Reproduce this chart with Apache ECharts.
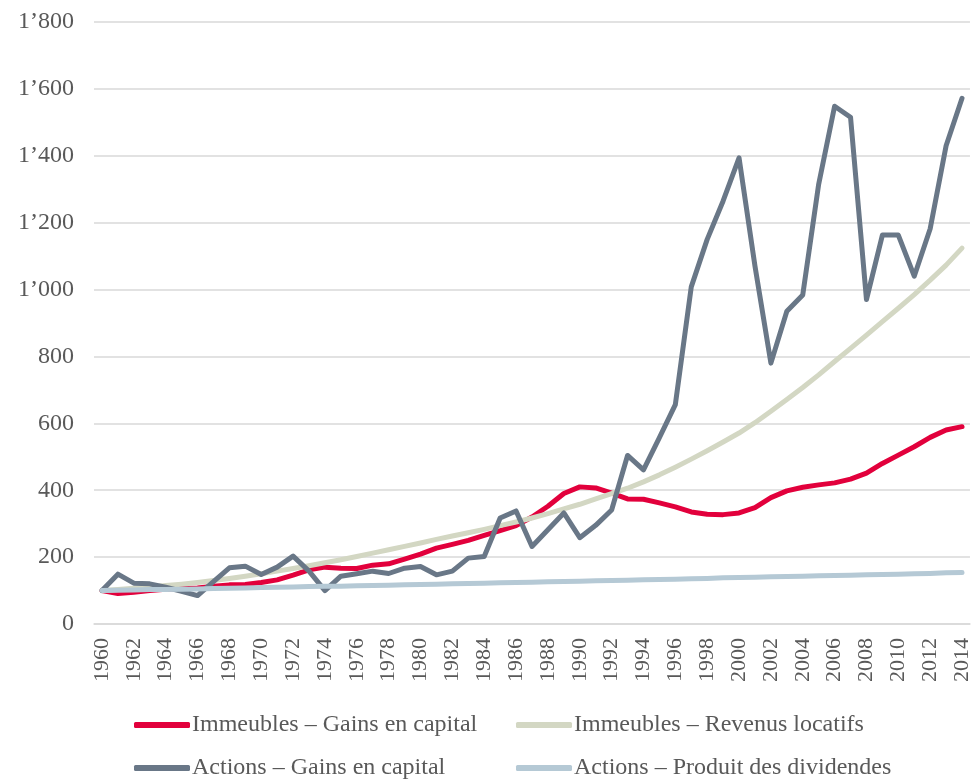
<!DOCTYPE html>
<html lang="fr">
  <head>
    <meta charset="UTF-8" />
    <title>Immeubles et actions 1960-2014</title>
    <script src="https://cdn.jsdelivr.net/npm/echarts@6/dist/echarts.min.js"></script>
    <style>
      html, body { margin: 0; padding: 0; background: #fff; }
      #main { width: 973px; height: 782px; }
    </style>
  </head>
  <body>
    <div id="main"></div>

    <script>
      const years = [];
      for (let y = 1960; y <= 2014; y++) years.push(String(y));

      const immeublesGains = [
        100, 91, 95, 100, 104, 106, 108, 113, 117, 118,
        124, 132, 146, 162, 170, 167, 166, 176, 180, 194,
        209, 227, 238, 250, 265, 279, 294, 320, 352, 390,
        410, 407, 391, 374, 373, 362, 350, 335, 328, 327,
        332, 348, 378, 398, 409, 416, 422, 433, 451, 480,
        505, 530, 558, 580, 590
      ];
      const immeublesRevenus = [
        100, 103, 107, 111, 115, 119, 124, 130, 136, 143,
        150, 158, 166, 174, 183, 192, 202, 212, 222, 232,
        242, 253, 263, 273, 283, 294, 305, 317, 330, 344,
        358, 374, 390, 406, 425, 446, 469, 493, 518, 544,
        571, 602, 636, 671, 707, 745, 785, 824, 864, 904,
        944, 985, 1028, 1073, 1124
      ];
      const actionsGains = [
        100, 149, 122, 120, 110, 98, 85, 127, 168, 173,
        148, 170, 203, 158, 100, 143, 150, 158, 151, 167,
        172, 147, 158, 197, 202, 317, 338, 232, 282, 332,
        258, 295, 341, 504, 461, 557, 656, 1008, 1150, 1265,
        1394, 1070, 780, 935, 984, 1315, 1548, 1515, 970, 1163,
        1163, 1040, 1182, 1430, 1572
      ];
      const actionsDividendes = [
        100, 101, 102, 103, 103, 104, 105, 106, 107, 108,
        109, 110, 111, 112, 113, 113, 114, 115, 116, 117,
        118, 119, 120, 121, 122, 123, 124, 125, 126, 127,
        128, 129, 130, 131, 132, 133, 134, 135, 136, 138,
        139, 140, 141, 142, 143, 144, 145, 146, 147, 148,
        149, 150, 151, 153, 154
      ];

      const names = [
        'Immeubles – Gains en capital',
        'Immeubles – Revenus locatifs',
        'Actions – Gains en capital',
        'Actions – Produit des dividendes'
      ];
      const colors = ['#E2003C', '#D3D7C3', '#697787', '#B5C9D5'];
      const values = [immeublesGains, immeublesRevenus, actionsGains, actionsDividendes];

      const font = '"Liberation Serif", "Times New Roman", serif';

      function fmt(v) {
        if (v >= 1000) {
          const rest = String(v % 1000).padStart(3, '0');
          return Math.floor(v / 1000) + '’' + rest;
        }
        return String(v);
      }

      const legendBase = {
        orient: 'vertical',
        top: 713,
        padding: 0,
        itemGap: 19,
        itemWidth: 56,
        itemHeight: 6,
        icon: 'roundRect',
        textStyle: { fontFamily: font, fontSize: 24, color: '#595959', padding: [0, 0, 0, -3] }
      };

      const option = {
        animation: false,
        backgroundColor: '#ffffff',
        grid: { left: 94, right: 0, top: 22, bottom: 158 },
        legend: [
          Object.assign({}, legendBase, { left: 134, data: [names[0], names[2]] }),
          Object.assign({}, legendBase, { left: 516, data: [names[1], names[3]] })
        ],
        xAxis: {
          type: 'category',
          data: years,
          boundaryGap: true,
          axisLine: { show: true, lineStyle: { color: '#D9D9D9', width: 1.5 } },
          axisTick: { show: false },
          axisLabel: {
            interval: 1,
            rotate: 90,
            margin: 14,
            fontFamily: font,
            fontSize: 22,
            color: '#595959'
          }
        },
        yAxis: {
          type: 'value',
          min: 0,
          max: 1800,
          interval: 200,
          axisLine: { show: false },
          axisTick: { show: false },
          splitLine: { lineStyle: { color: '#D9D9D9', width: 1.5 } },
          axisLabel: {
            margin: 20,
            fontFamily: font,
            fontSize: 24,
            color: '#595959',
            formatter: fmt
          }
        },
        series: names.map((n, i) => ({
          name: n,
          type: 'line',
          data: values[i],
          symbol: 'none',
          color: colors[i],
          lineStyle: { width: 5, color: colors[i], cap: 'round', join: 'round' },
          z: 2 + i
        }))
      };

      const chart = echarts.init(document.getElementById('main'));
      chart.setOption(option);
    </script>
  </body>
</html>
